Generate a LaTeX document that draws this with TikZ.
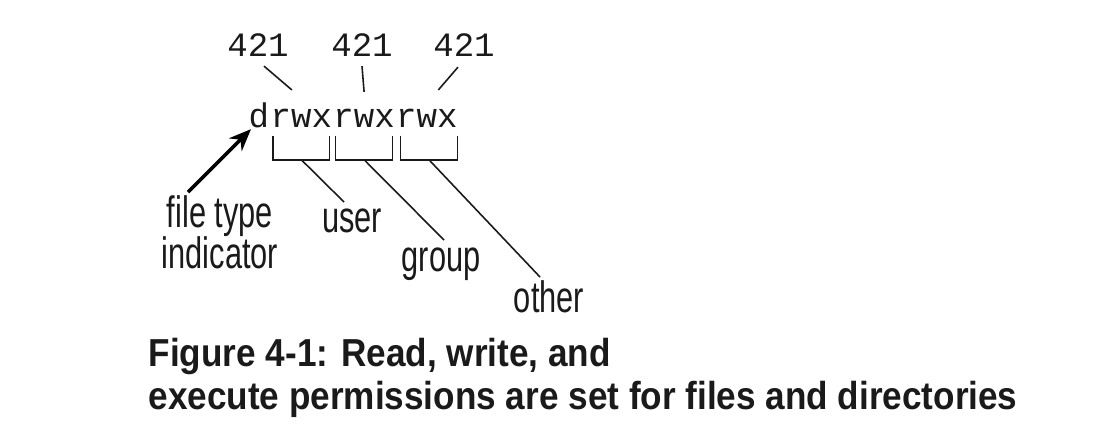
\documentclass[tikz,border=0pt]{standalone}
\usepackage{fontspec}
\usepackage{xcolor}
\usetikzlibrary{arrows.meta,positioning}
\newfontfamily\permfont{Liberation Mono}
\newfontfamily\labelfont[FakeStretch=0.70]{Liberation Sans}
\newfontfamily\captfont[FakeStretch=0.90]{Liberation Sans}
\newcommand\labelsize{\fontsize{12.5}{11.5}\selectfont\lineskiplimit=-20pt\relax}
\definecolor{inkc}{HTML}{1A1A1A}
\tikzset{
  bitsnode/.style={inner sep=0pt, text=inkc, font=\permfont\fontsize{9.7}{11}\selectfont},
  permnode/.style={bitsnode},
  labelnode/.style={inner sep=0pt, align=center, text=inkc, font=\labelfont\labelsize},
  captionnode/.style={inner sep=0pt, align=left, text=inkc,
    font=\captfont\bfseries\fontsize{11.1}{12.2}\selectfont},
  thinedge/.style={draw=inkc, line width=0.45pt},
  bracketedge/.style={draw=inkc, line width=0.45pt},
  typeedge/.style={-{Stealth[length=2.2mm, width=1.8mm]}, draw=black, line width=1pt},
}
\begin{document}
\begin{tikzpicture}[x=0.01cm, y=-0.01cm]
  \useasboundingbox (0,0) rectangle (1102,438);
  % bit weights
  \node[bitsnode] (b1) at (258,45) {421};
  \node[bitsnode] (b2) at (362,45) {421};
  \node[bitsnode] (b3) at (464,45) {421};
  % permission string
  \node[permnode, anchor=base west] (d) at (248,127) {d};
  \node[permnode, base right=0pt of d] (u) {rwx};
  \node[permnode, base right=0pt of u] (g) {rwx};
  \node[permnode, base right=0pt of g] (o) {rwx};
  \draw[thinedge] ([shift={(6,9)}]b1.south) -- ([shift={(22,-18)}]u.north west);
  \draw[thinedge] ([shift={(0,9)}]b2.south) -- ([shift={(0,-16)}]g.north);
  \draw[thinedge] ([shift={(-6,10)}]b3.south) -- ([shift={(-20,-18)}]o.north east);
  % brackets
  \draw[bracketedge] ([shift={(3,8)}]u.south west) -- ++(0,24) -| ([shift={(-3,8)}]u.south east);
  \draw[bracketedge] ([shift={(3,8)}]g.south west) -- ++(0,24) -| ([shift={(-3,8)}]g.south east);
  \draw[bracketedge] ([shift={(5,8)}]o.south west) -- ++(0,24) -| ([shift={(-1,8)}]o.south east);
  \coordinate (ub) at ([shift={(0,32)}]u.south);
  \coordinate (gb) at ([shift={(0,32)}]g.south);
  \coordinate (ob) at ([shift={(2,32)}]o.south);
  % labels
  \node[labelnode, anchor=base] (ftype) at (220,268) {file type\\indicator};
  \node[labelnode, anchor=base] (user) at (352,232) {user};
  \node[labelnode, anchor=base] (group) at (441,271) {group};
  \node[labelnode, anchor=base] (other) at (549,312) {other};
  \coordinate (uend) at (344,202);
  \coordinate (gend) at (444,240);
  \coordinate (oend) at (540,277);
  \coordinate (ftail) at (188,192);
  \draw[thinedge] (ub) -- (uend);
  \draw[thinedge] (gb) -- (gend);
  \draw[thinedge] (ob) -- (oend);
  \draw[typeedge] (ftail) -- ([shift={(3,1)}]d.south west);
  % caption
  \node[captionnode, anchor=base west] (caption) at (148,409)
    {Figure 4-1: Read, write, and\\execute permissions are set for files and directories};
\end{tikzpicture}
\end{document}
